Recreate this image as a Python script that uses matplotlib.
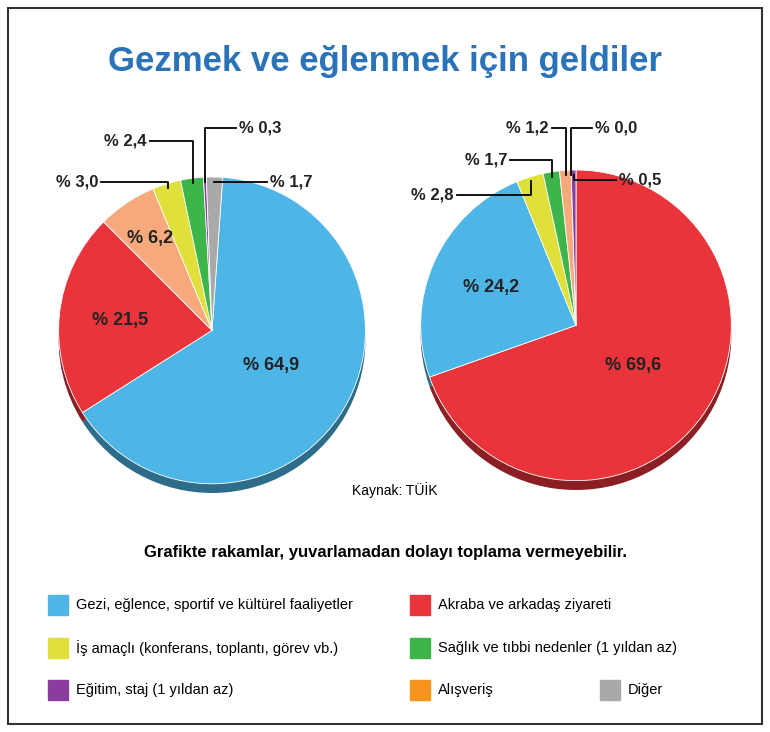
import numpy as np
import matplotlib
matplotlib.use("Agg")
import matplotlib.pyplot as plt
import matplotlib.colors as mc

W, H = 770, 732
FAM = "Liberation Sans"
categories = ["Gezi, eğlence, sportif ve kültürel faaliyetler", "Akraba ve arkadaş ziyareti",
              "Alışveriş", "İş amaçlı (konferans, toplantı, görev vb.)",
              "Sağlık ve tıbbi nedenler (1 yıldan az)", "Eğitim, staj (1 yıldan az)", "Diğer"]
colors = ["#4db6e6", "#e8343a", "#f6a97a", "#dfe03a", "#3db54a", "#8a3d9c", "#a9a9a9"]
left_order = [0, 1, 2, 3, 4, 5, 6]
left_values = [64.9, 21.5, 6.2, 3.0, 2.4, 0.3, 1.7]
left_labels = ["% 64,9", "% 21,5", "% 6,2", "% 3,0", "% 2,4", "% 0,3", "% 1,7"]
right_order = [1, 0, 3, 4, 2, 6, 5]
right_values = [69.6, 24.2, 2.8, 1.7, 1.2, 0.0, 0.5]
right_labels = ["% 69,6", "% 24,2", "% 2,8", "% 1,7", "% 1,2", "% 0,0", "% 0,5"]

fig = plt.figure(figsize=(7.7, 7.32), dpi=100)
fig.patches.append(plt.Rectangle((8/W, 8/H), 1-16/W, 1-16/H, transform=fig.transFigure,
                                 fill=False, lw=1.5, ec="#333333"))
fig.text(0.5, 1-62/H, "Gezmek ve eğlenmek için geldiler", ha="center", va="center",
         fontsize=25, fontweight="bold", color="#2a73b8", family=FAM)

def pie(cx, cy, r, order, values, labels, start, inside, outside):
    ax = fig.add_axes([(cx-r)/W, 1-(cy+r)/H, 2*r/W, 2*r/H])
    ax.axis("off")
    cols = [colors[i] for i in order]
    dark = [tuple(np.array(mc.to_rgb(c))*0.6) for c in cols]
    ax.pie(values, colors=dark, startangle=start, counterclock=False, radius=1,
           center=(0, -0.06), wedgeprops=dict(lw=0))
    wedges, _ = ax.pie(values, colors=cols, startangle=start, counterclock=False, radius=1,
                       wedgeprops=dict(lw=0.6, ec="white"))
    ax.set_xlim(-1, 1); ax.set_ylim(-1.06, 1)
    for k, w in enumerate(wedges):
        mid = np.deg2rad((w.theta1 + w.theta2)/2)
        if k in inside:
            rr = inside[k]
            ax.text(rr*np.cos(mid), rr*np.sin(mid), labels[k], ha="center", va="center",
                    fontsize=13, fontweight="bold", color="#222222", family=FAM)
        elif k in outside:
            lx, ly = outside[k]
            x0, y0 = 0.97*np.cos(mid), 0.97*np.sin(mid)
            tx, ty = (lx-cx)/r, (cy-ly)/r
            side = -1 if tx < x0 else 1
            ax.plot([x0, x0, tx - side*0.02], [y0, ty, ty], color="black", lw=1.3, clip_on=False)
            ax.text(tx, ty, labels[k], ha="right" if side < 0 else "left", va="center",
                    fontsize=12, fontweight="bold", color="#222222", family=FAM, clip_on=False)

pie(212, 335, 158, left_order, left_values, left_labels, 86,
    {0: 0.45, 1: 0.6, 2: 0.72},
    {3: (95, 182), 4: (145, 140), 5: (240, 127), 6: (272, 182)})
pie(576, 330, 160, right_order, right_values, right_labels, 90,
    {0: 0.45, 1: 0.6},
    {2: (450, 196), 3: (505, 160), 4: (548, 127), 5: (596, 127), 6: (620, 180)})

fig.text(395/W, 1-490/H, "Kaynak: TÜİK", ha="center", va="center", fontsize=10, family=FAM)
fig.text(385/W, 1-553/H, "Grafikte rakamlar, yuvarlamadan dolayı toplama vermeyebilir.",
         ha="center", va="center", fontsize=12, fontweight="bold", family=FAM)

legend_colors = ["#4db6e6", "#e8343a", "#dfe03a", "#3db54a", "#8a3d9c", "#f7941d", "#a9a9a9"]
legend_items = [categories[0], categories[1], categories[3], categories[4], categories[5],
                categories[2], categories[6]]
pos = [(48, 605), (410, 605), (48, 648), (410, 648), (48, 690), (410, 690), (600, 690)]
for (x, y), c, t in zip(pos, legend_colors, legend_items):
    fig.patches.append(plt.Rectangle((x/W, 1-(y+10)/H), 20/W, 20/H, transform=fig.transFigure,
                                     color=c))
    fig.text((x+28)/W, 1-y/H, t, ha="left", va="center", fontsize=10.5, family=FAM)

fig.savefig("out.png", dpi=100, facecolor="white")
